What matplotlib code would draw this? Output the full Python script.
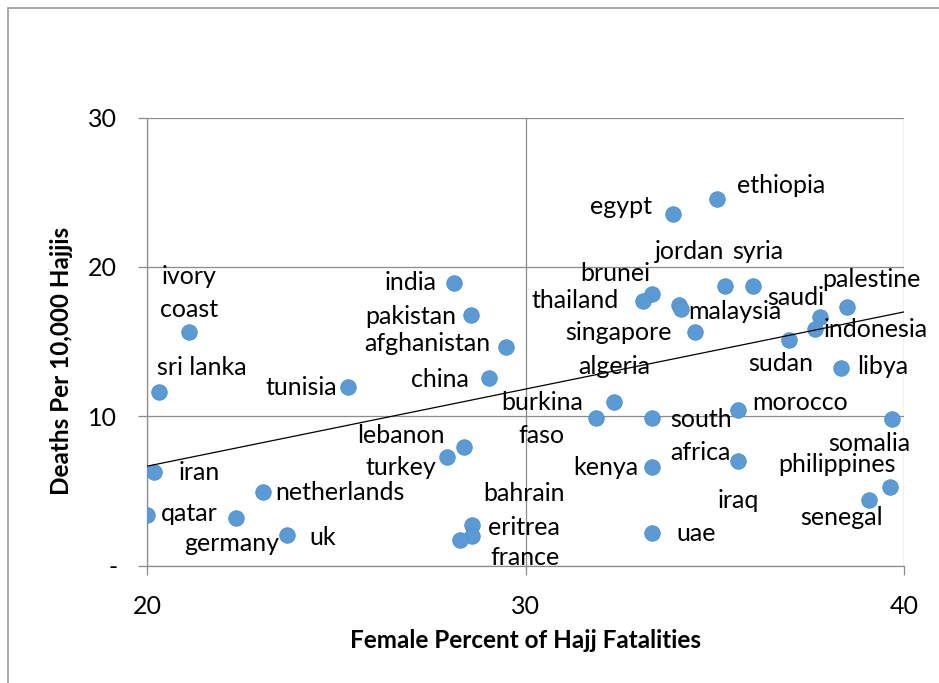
import numpy as np
import matplotlib
matplotlib.use('Agg')
import matplotlib.pyplot as plt
from matplotlib.patches import Rectangle
from matplotlib.ticker import FuncFormatter

# =============================================================================
#                                   Data
# =============================================================================

countries = ['qatar', 'iran', 'sri lanka', 'ivory\ncoast', 'germany', 'netherlands',
             'uk', 'tunisia', 'india', 'pakistan', 'afghanistan', 'china',
             'lebanon', 'turkey', 'bahrain', 'eritrea', 'france', 'egypt',
             'ethiopia', 'jordan', 'syria', 'brunei', 'thailand', 'malaysia', '',
             'singapore', 'palestine', 'saudi', 'indonesia', 'sudan', 'libya',
             'algeria', 'burkina\nfaso', 'south\nafrica', 'morocco', 'somalia',
             'kenya', 'iraq', 'philippines', 'senegal', 'uae']

female_pct = [20.0, 20.18, 20.32, 21.11, 22.35, 23.06,
              23.69, 25.31, 28.11, 28.56, 29.49, 29.03,
              28.38, 27.93, 28.59, 28.59, 28.27, 33.90,
              35.06, 35.27, 36.00, 33.34, 33.10, 34.05, 34.10,
              34.48, 38.49, 37.78, 37.65, 36.96, 38.33,
              32.34, 31.86, 33.34, 35.61, 39.68,
              33.34, 35.61, 39.63, 39.07, 33.34]

deaths_per_10k = [3.38, 6.26, 11.63, 15.64, 3.18, 4.92,
                  2.04, 11.96, 18.92, 16.78, 14.63, 12.56,
                  7.94, 7.27, 2.71, 1.97, 1.71, 23.54,
                  24.55, 18.72, 18.72, 18.19, 17.72, 17.45, 17.20,
                  15.64, 17.32, 16.64, 15.84, 15.10, 13.20,
                  10.95, 9.88, 9.88, 10.42, 9.81,
                  6.60, 6.97, 5.26, 4.39, 2.18]

# linear trendline (ends of the line)
trend_x = [20, 40]
trend_y = [6.65, 16.98]

# label placement (pixels from the point, right / down)
label_shift = [(42, -2), (45, 0), (43, -24), (0, -39), (-4, 25), (77, 0),
               (36, 2), (-47, 1), (-43, 0), (-60, 2), (-79, -4), (-49, 2),
               (-63, -11), (-46, 11), (52, -32), (52, -9), (65, 18), (-52, -7),
               (64, -13), (-35, -34), (5, -34), (-37, -20), (-68, 0), (56, 7), (0, 0),
               (-77, 1), (25, -27), (-24, -20), (61, 1), (-8, 23), (42, -2),
               (0, -35), (-54, 1), (49, 18), (62, -7), (-23, 24),
               (-46, 1), (0, 39), (-53, -22), (-27, 18), (44, 1)]

# =============================================================================
#                                   Chart
# =============================================================================

plt.rcParams['font.family'] = ['Lato', 'DejaVu Sans']

fig = plt.figure(figsize=(9.39, 6.83), dpi=100)
ax = fig.add_axes([147 / 939, 1 - 565.5 / 683, (904 - 147) / 939, (565.5 - 117.5) / 683])

# outer chart border (cropped at right and bottom)
fig.patches.append(Rectangle((8 / 939, -0.1), 1.2, 1 - 8 / 683 + 0.1,
                             transform=fig.transFigure, fill=False,
                             edgecolor='#9a9a9a', linewidth=1.2))

x = np.array(female_pct)
y = np.array(deaths_per_10k)

ax.scatter(x, y, s=125, color='#5b9bd5', edgecolor='#4f8fcf', linewidth=0.6, zorder=3)
ax.plot(trend_x, trend_y, color='black', linewidth=0.9, zorder=4)

for name, xi, yi, (dx, dy) in zip(countries, x, y, label_shift):
    if name:
        ax.annotate(name, (xi, yi), xytext=(dx * 0.72, -dy * 0.72),
                    textcoords='offset points', ha='center', va='center',
                    fontsize=18, linespacing=1.5, zorder=5)

ax.set_xlim(20, 40)
ax.set_ylim(0, 30)
ax.set_xticks([20, 30, 40])
ax.set_yticks([0, 10, 20, 30])
ax.yaxis.set_major_formatter(FuncFormatter(lambda v, p: '-' if v == 0 else '%d' % v))
ax.grid(True, color='#8c8c8c', linewidth=0.9)
ax.set_axisbelow(True)
for side in ['top', 'right']:
    ax.spines[side].set_visible(False)
for side in ['left', 'bottom']:
    ax.spines[side].set_color('#8c8c8c')
    ax.spines[side].set_linewidth(0.9)
ax.tick_params(length=6.5, width=0.9, color='#8c8c8c', pad=15, labelsize=18)

fig.text(525 / 939, 1 - 641 / 683, 'Female Percent of Hajj Fatalities',
         ha='center', va='center', fontsize=17.5, fontweight='bold')
fig.text(62 / 939, 1 - 361 / 683, 'Deaths Per 10,000 Hajjis', rotation=90,
         ha='center', va='center', fontsize=17.5, fontweight='bold')

fig.savefig('out.png', dpi=100)
